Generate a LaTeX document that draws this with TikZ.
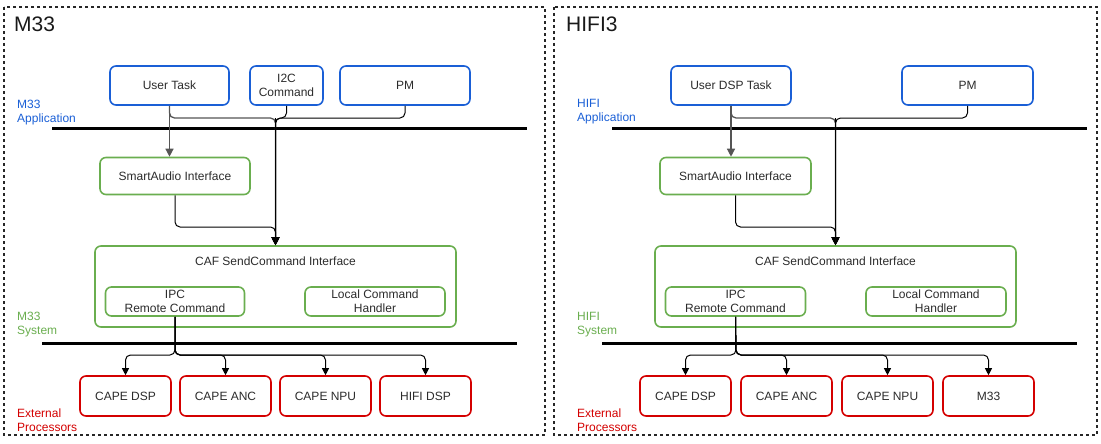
\documentclass[tikz,border=0pt]{standalone}
\usepackage{fontspec}
\setmainfont{Liberation Sans}
\usetikzlibrary{arrows.meta}
\definecolor{cblue}{HTML}{1A5FD6}
\definecolor{cgreen}{HTML}{6AAE4F}
\definecolor{cred}{HTML}{D40000}
\definecolor{ctxt}{HTML}{2B2B2B}
\definecolor{cgray}{HTML}{555555}
\tikzset{
  fnt/.style={font=\fontsize{12}{14}\selectfont},
  bx/.style={fnt, rounded corners=6pt, line width=1.6pt, align=center, text=ctxt, inner sep=0pt},
  bbox/.style={bx, draw=cblue},
  gbox/.style={bx, draw=cgreen},
  rbox/.style={bx, draw=cred},
  panel/.style={draw=black!85, line width=1.2pt, dash pattern=on 3pt off 3pt},
  sep/.style={line width=3.6pt, black},
  conn/.style={line width=1pt, rounded corners=5pt, -{Triangle[length=8pt,width=8pt]}},
  trunk/.style={line width=1.8pt, -{Triangle[length=6pt,width=6pt]}},
  connb/.style={line width=1pt, rounded corners=5pt, -{Triangle[length=7pt,width=7pt]}},
  lbl/.style={fnt, anchor=west, align=left, inner sep=0pt},
  ttl/.style={font=\fontsize{21}{24}\selectfont, anchor=west, inner sep=0pt, text=black!90},
}
\begin{document}
\begin{tikzpicture}[x=1pt,y=-1pt]
\useasboundingbox (0,0) rectangle (1101,444);

% ---------- Left panel ----------
\draw[panel] (4,7) rectangle (545,435);
\node[ttl] (t1) at (14,24) {M33};
\node[lbl, text=cblue] (la1) at (17,113) {M33\\Application};
\node[lbl, text=cgreen] (ls1) at (17,325) {M33\\System};
\node[lbl, text=cred] (le1) at (17,420) {External\\Processors};
\coordinate (s1a) at (52,128.5);
\coordinate (s1b) at (527,128.5);
\coordinate (s2a) at (42,343.5);
\coordinate (s2b) at (517,343.5);
\draw[sep] (s1a) -- (s1b);
\draw[sep] (s2a) -- (s2b);

\node[bbox, minimum width=119pt, minimum height=39pt] (ut) at (169.5,85.5) {User Task};
\node[bbox, minimum width=73pt, minimum height=39pt] (i2c) at (286.5,85.5) {I2C\\Command};
\node[bbox, minimum width=130pt, minimum height=39pt] (pm) at (405,85.5) {PM};
\node[gbox, minimum width=150pt, minimum height=37pt] (sa) at (175,176) {SmartAudio Interface};
\node[gbox, minimum width=361pt, minimum height=81pt] (caf) at (275.5,286.5) {};
\node[fnt, text=ctxt] (caft) at (275.5,261) {CAF SendCommand Interface};
\node[gbox, minimum width=139pt, minimum height=29pt] (ipc) at (175,301.5) {IPC\\Remote Command};
\node[gbox, minimum width=140pt, minimum height=29pt] (loc) at (375,301.5) {Local Command\\Handler};
\node[rbox, minimum width=91pt, minimum height=40pt] (p1) at (125.5,396) {CAPE DSP};
\node[rbox, minimum width=91pt, minimum height=40pt] (p2) at (225.5,396) {CAPE ANC};
\node[rbox, minimum width=91pt, minimum height=40pt] (p3) at (325.5,396) {CAPE NPU};
\node[rbox, minimum width=91pt, minimum height=40pt] (p4) at (425.5,396) {HIFI DSP};

\coordinate (j1) at (275.5,118);
\coordinate (k1) at (275.5,227);
\coordinate (b1) at (175,355);
\draw[conn, cgray, line width=1.3pt] (ut.south) -- (ut.south |- sa.north);
\draw[conn, cgray, line width=1.3pt] (ut.south) |- (j1) -- (caf.north);
\draw[conn] (i2c.south) |- (j1) -- (caf.north);
\draw[conn] (pm.south) |- (j1) -- (caf.north);
\draw[conn] (sa.south) |- (k1) -- (caf.north);
\draw[trunk] (j1) -- (caf.north);
\draw[connb] (ipc.south) -- (b1) -| (p1.north);
\draw[connb] (ipc.south) -- (b1) -| (p2.north);
\draw[connb] (ipc.south) -- (b1) -| (p3.north);
\draw[connb] (ipc.south) -- (b1) -| (p4.north);

% ---------- Right panel ----------
\draw[panel] (554,7) rectangle (1097,435);
\node[ttl] (t2) at (566,24) {HIFI3};
\node[lbl, text=cblue] (la2) at (577,112) {HIFI\\Application};
\node[lbl, text=cgreen] (ls2) at (577,325) {HIFI\\System};
\node[lbl, text=cred] (le2) at (577,420) {External\\Processors};
\coordinate (s3a) at (612,128.5);
\coordinate (s3b) at (1087,128.5);
\coordinate (s4a) at (602,343.5);
\coordinate (s4b) at (1077,343.5);
\draw[sep] (s3a) -- (s3b);
\draw[sep] (s4a) -- (s4b);

\node[bbox, minimum width=120pt, minimum height=39pt] (ut2) at (731,85.5) {User DSP Task};
\node[bbox, minimum width=131pt, minimum height=39pt] (pm2) at (967.5,85.5) {PM};
\node[gbox, minimum width=151pt, minimum height=37pt] (sa2) at (735.5,176) {SmartAudio Interface};
\node[gbox, minimum width=361pt, minimum height=81pt] (caf2) at (835.5,286.5) {};
\node[fnt, text=ctxt] (caft2) at (835.5,261) {CAF SendCommand Interface};
\node[gbox, minimum width=140pt, minimum height=29pt] (ipc2) at (735.5,301.5) {IPC\\Remote Command};
\node[gbox, minimum width=140pt, minimum height=29pt] (loc2) at (936,301.5) {Local Command\\Handler};
\node[rbox, minimum width=91pt, minimum height=40pt] (q1) at (685.5,396) {CAPE DSP};
\node[rbox, minimum width=91pt, minimum height=40pt] (q2) at (786.5,396) {CAPE ANC};
\node[rbox, minimum width=91pt, minimum height=40pt] (q3) at (887.5,396) {CAPE NPU};
\node[rbox, minimum width=91pt, minimum height=40pt] (q4) at (988.5,396) {M33};

\coordinate (j2) at (835.5,118);
\coordinate (k2) at (835.5,227);
\coordinate (b2) at (736,355);
\draw[conn, cgray, line width=1.3pt] (ut2.south) -- (ut2.south |- sa2.north);
\draw[conn, cgray, line width=1.3pt] (ut2.south) |- (j2) -- (caf2.north);
\draw[conn] (pm2.south) |- (j2) -- (caf2.north);
\draw[conn] (sa2.south) |- (k2) -- (caf2.north);
\draw[trunk] (j2) -- (caf2.north);
\draw[connb] (ipc2.south) -- (b2) -| (q1.north);
\draw[connb] (ipc2.south) -- (b2) -| (q2.north);
\draw[connb] (ipc2.south) -- (b2) -| (q3.north);
\draw[connb] (ipc2.south) -- (b2) -| (q4.north);
\end{tikzpicture}
\end{document}
